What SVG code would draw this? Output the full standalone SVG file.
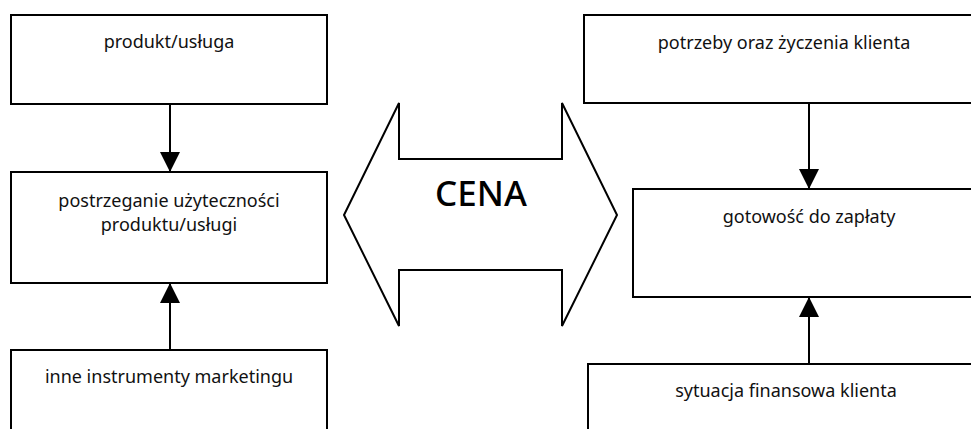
<svg xmlns="http://www.w3.org/2000/svg" width="971" height="429" viewBox="0 0 971 429">
<style>
.box{fill:#fff;stroke:#000;stroke-width:2}
.t{font-family:"Noto Sans","Open Sans",sans-serif;font-size:18px;fill:#111;text-anchor:middle}
.c{stroke:#000;stroke-width:2;fill:none}
.big{font-family:"Noto Sans","Open Sans",sans-serif;font-size:35px;font-weight:500;fill:#000;text-anchor:middle}
</style>
<defs>
<marker id="ah" markerUnits="userSpaceOnUse" markerWidth="20" markerHeight="20" refX="20" refY="10" orient="auto" viewBox="0 0 20 20">
<path d="M0,0 L20,10 L0,20 Z" fill="#000"/>
</marker>
</defs>
<rect width="971" height="429" fill="#fff"/>
<g id="n1"><rect class="box" x="11" y="15" width="316" height="89"/><text class="t" x="169" y="48">produkt/usługa</text></g>
<g id="n2"><rect class="box" x="11" y="172" width="316" height="111"/><text class="t" x="169" y="207">postrzeganie użyteczności</text><text class="t" x="169" y="231">produktu/usługi</text></g>
<g id="n3"><rect class="box" x="11" y="350" width="316" height="100"/><text class="t" x="169" y="383">inne instrumenty marketingu</text></g>
<g id="n4"><rect class="box" x="584" y="15" width="400" height="88"/><text class="t" x="784" y="49">potrzeby oraz życzenia klienta</text></g>
<g id="n5"><rect class="box" x="633" y="189" width="352" height="108"/><text class="t" x="809" y="223">gotowość do zapłaty</text></g>
<g id="n6"><rect class="box" x="588" y="364" width="396" height="90"/><text class="t" x="786" y="397">sytuacja finansowa klienta</text></g>
<g id="cena"><path class="c" d="M344,215 L399,103 L399,159 L562,159 L562,103 L617,215 L562,326 L562,270 L399,270 L399,326 Z" fill="#fff"/><text class="big" x="481" y="206">CENA</text></g>
<g id="connectors">
<line class="c" x1="170" y1="104" x2="170" y2="172" marker-end="url(#ah)"/>
<line class="c" x1="170" y1="350" x2="170" y2="283" marker-end="url(#ah)"/>
<line class="c" x1="809" y1="103" x2="809" y2="189" marker-end="url(#ah)"/>
<line class="c" x1="809" y1="364" x2="809" y2="297" marker-end="url(#ah)"/>
</g>
</svg>
